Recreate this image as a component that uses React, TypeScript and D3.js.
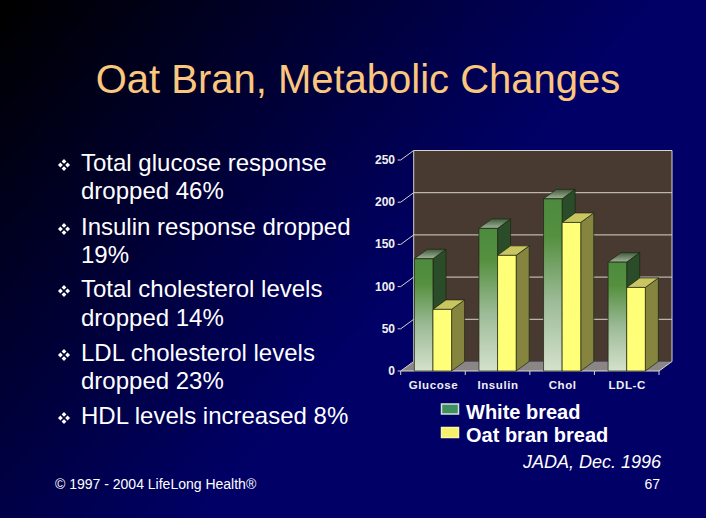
import React from "react";
import * as d3 from "d3";

const categories = ["Glucose", "Insulin", "Chol", "LDL-C"];
const whiteBread = [133, 169, 204, 129];
const oatBran = [73, 137, 176, 99];
const yTicks = [0, 50, 100, 150, 200, 250];
const bulletLines = [
  ["Total glucose response", "dropped 46%"],
  ["Insulin response dropped", "19%"],
  ["Total cholesterol levels", "dropped 14%"],
  ["LDL cholesterol levels", "dropped 23%"],
  ["HDL levels increased 8%"],
];
const lineBaselines = [[171, 199], [235, 263], [297, 326], [361, 389], [424]];

const W = 706, H = 518;
const DX = 13, DY = -9.5;
const x = d3.scaleBand<string>().domain(categories).range([400.7, 659]);
const y = d3.scaleLinear().domain([0, 250]).range([371, 160]);
const BW = 18.6;
const LINE = "#d8d4c8";

const poly = (pts: [number, number][]) => d3.line()(pts) + "Z";

function Bar({ x0, v, kind }: { x0: number; v: number; kind: "g" | "y" }) {
  const top = y(v), bot = y(0), x1 = x0 + BW;
  const g = kind === "g";
  return (
    <g stroke="#1c2410" strokeWidth={0.7} strokeLinejoin="round">
      <path d={poly([[x1, top], [x1 + DX, top + DY], [x1 + DX, bot + DY], [x1, bot]])} fill={g ? "#2a4c28" : "#85853f"} />
      <path d={poly([[x0, top], [x0 + DX, top + DY], [x1 + DX, top + DY], [x1, top]])} fill={g ? "url(#gTop)" : "#c9c662"} />
      <rect x={x0} y={top} width={BW} height={bot - top} fill={g ? "url(#gFront)" : "#ffff78"} />
    </g>
  );
}

function Bullet({ cx, cy }: { cx: number; cy: number }) {
  const d = [[0, -3.6], [3.6, 0], [0, 3.6], [-3.6, 0]] as [number, number][];
  const r = 2.4;
  return (
    <g fill="#ffffff">
      {d.map(([a, b], i) => (
        <path key={i} d={poly([[cx + a, cy + b - r], [cx + a + r, cy + b], [cx + a, cy + b + r], [cx + a - r, cy + b]])} />
      ))}
    </g>
  );
}

export default function App() {
  const left = x.range()[0], right = x.range()[1];
  const font = "'Liberation Sans', Arial, sans-serif";
  return (
    <svg width={W} height={H} style={{ position: "absolute", left: 0, top: 0, fontFamily: font }}>
      <defs>
        <linearGradient id="bg" gradientUnits="userSpaceOnUse" x1={15} y1={0} x2={375} y2={321}>
          <stop offset="0" stopColor="#000000" />
          <stop offset="1" stopColor="#000066" />
        </linearGradient>
        <linearGradient id="gFront" x1="0" y1="0" x2="0" y2="1">
          <stop offset="0" stopColor="#4c8a3e" />
          <stop offset="0.22" stopColor="#55903f" />
          <stop offset="0.6" stopColor="#9dbb98" />
          <stop offset="1" stopColor="#d4e2cc" />
        </linearGradient>
        <linearGradient id="gTop" x1="0" y1="0" x2="0" y2="1">
          <stop offset="0" stopColor="#3c5c3a" />
          <stop offset="1" stopColor="#a6b49c" />
        </linearGradient>
      </defs>
      <rect width={W} height={H} fill="url(#bg)" />

      <text x={358} y={93} textAnchor="middle" fontSize={40} fill="#fbc67e">Oat Bran, Metabolic Changes</text>

      {bulletLines.map((ls, i) => (
        <g key={i}>
          <Bullet cx={64} cy={lineBaselines[i][0] - 6} />
          {ls.map((t, j) => (
            <text key={j} x={81} y={lineBaselines[i][j]} fontSize={24} fill="#ffffff">{t}</text>
          ))}
        </g>
      ))}

      <text x={55} y={489} fontSize={14} fill="#ffffff">© 1997 - 2004 LifeLong Health®</text>

      {/* chart */}
      <path d={poly([[left + DX, y(250) + DY], [right + DX, y(250) + DY], [right + DX, y(0) + DY], [left + DX, y(0) + DY]])} fill="#483a30" />
      <path d={poly([[left, y(0)], [left + DX, y(0) + DY], [right + DX, y(0) + DY], [right, y(0)]])} fill="#8a8686" />
      {yTicks.map((t) => (
        <g key={t} stroke={LINE} strokeWidth={1} fill="none">
          <path d={`M${left - 3},${y(t)}H${left}L${left + DX},${y(t) + DY}${t === 0 ? "" : `H${right + DX}`}`} />
        </g>
      ))}
      <path d={`M${left + DX},${y(0) + DY}V${y(250) + DY}M${right + DX},${y(250) + DY}V${y(0) + DY}L${right},${y(0)}H${left}`} stroke={LINE} fill="none" />
      {categories.concat("").map((c, i) => {
        const px = left + i * x.step();
        return <line key={i} x1={px} x2={px} y1={y(0)} y2={y(0) + 4} stroke={LINE} />;
      })}
      {categories.map((c, i) => {
        const cx = x(c)! + x.bandwidth() / 2;
        return (
          <g key={c}>
            <Bar x0={cx - BW} v={whiteBread[i]} kind="g" />
            <Bar x0={cx} v={oatBran[i]} kind="y" />
            <text x={cx + 0.5} y={389} textAnchor="middle" fontSize={11.5} fontWeight="bold" letterSpacing={0.6} fill="#f0f0f0">{c}</text>
          </g>
        );
      })}
      {yTicks.map((t) => (
        <text key={t} x={395} y={y(t) + 4} textAnchor="end" fontSize={12} fontWeight="bold" fill="#f0f0f0">{t}</text>
      ))}

      {/* legend */}
      <rect x={441.5} y={404} width={17} height={10} fill="#3f8f60" stroke="#cfe3d8" strokeWidth={1.5} />
      <rect x={441.5} y={427.5} width={17} height={10} fill="#f6f06a" stroke="#fbf7a0" strokeWidth={1.5} />
      <text x={466} y={418.5} fontSize={20} fontWeight="bold" fill="#ffffff">White bread</text>
      <text x={466} y={441.5} fontSize={20} fontWeight="bold" fill="#ffffff">Oat bran bread</text>
      <text x={661} y={468} textAnchor="end" fontSize={18} fontStyle="italic" fill="#ffffff">JADA, Dec. 1996</text>
      <text x={660} y={489} textAnchor="end" fontSize={14} fill="#ffffff">67</text>
    </svg>
  );
}
